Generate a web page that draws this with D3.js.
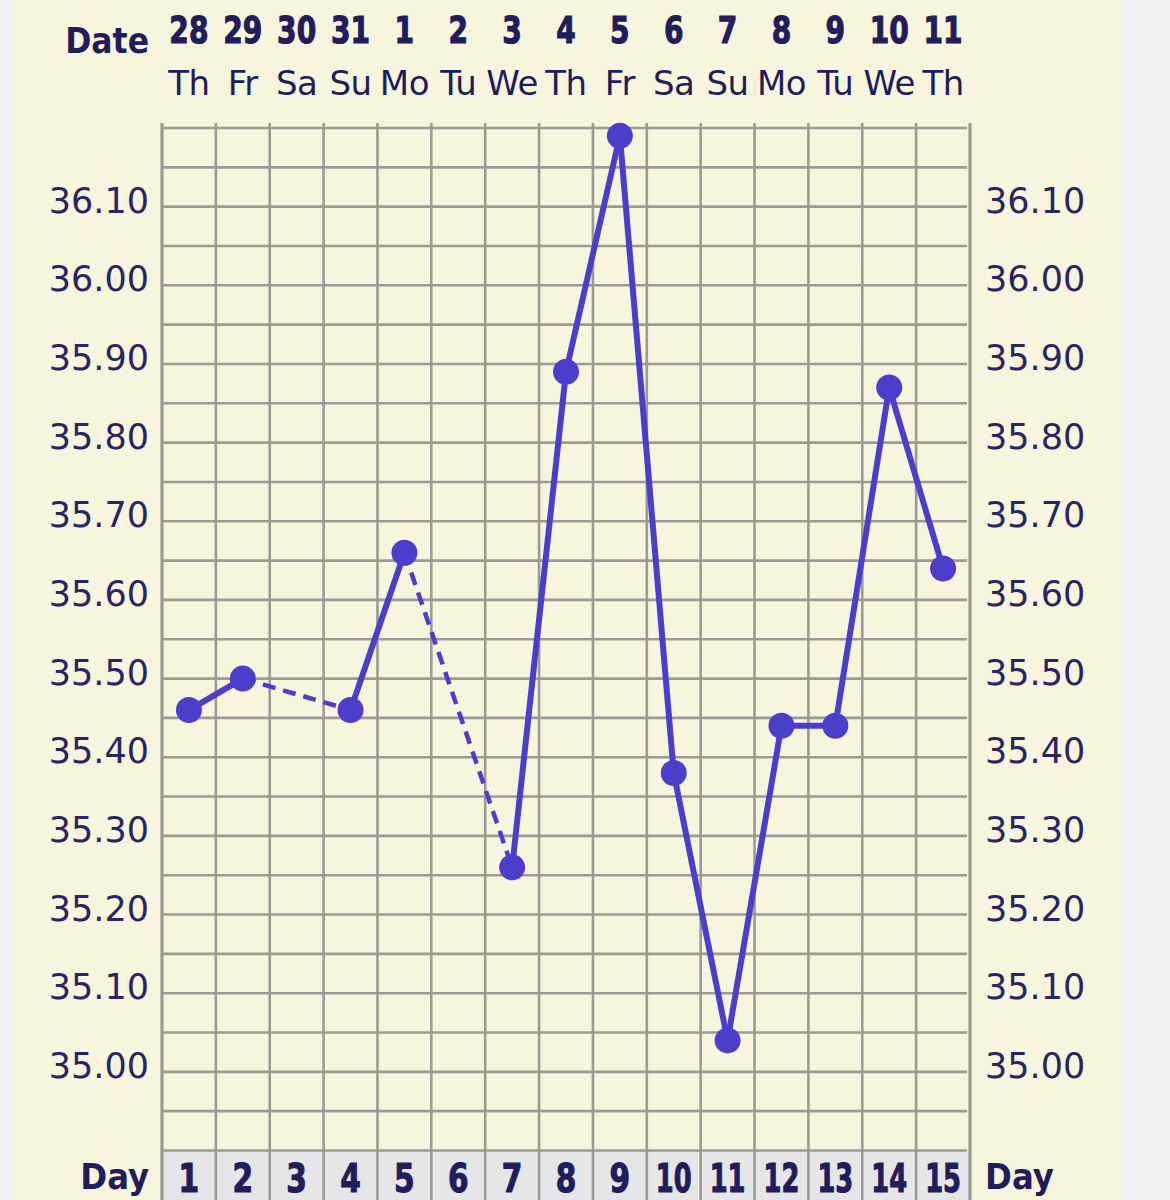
<!DOCTYPE html>
<html>
<head>
<meta charset="utf-8">
<script src="https://cdn.jsdelivr.net/npm/d3@7"></script>
<style>
  body { margin: 0; background: #f2f2f4; }
  svg { display: block; }
</style>
</head>
<body>
<div id="chart"></div>
<script>
// chart data
const dayNums = [1, 2, 3, 4, 5, 6, 7, 8, 9, 10, 11, 12, 13, 14, 15];
const dates = ["28", "29", "30", "31", "1", "2", "3", "4", "5", "6", "7", "8", "9", "10", "11"];
const weekdays = ["Th", "Fr", "Sa", "Su", "Mo", "Tu", "We", "Th", "Fr", "Sa", "Su", "Mo", "Tu", "We", "Th"];
const temps = [35.46, 35.50, null, 35.46, 35.66, null, 35.26, 35.89, 36.19, 35.38, 35.04, 35.44, 35.44, 35.87, 35.64];
const yTicks = [35.00, 35.10, 35.20, 35.30, 35.40, 35.50, 35.60, 35.70, 35.80, 35.90, 36.00, 36.10];

const W = 1170, H = 1200;
const navy = "#221c5a";
const lineColor = "#4a3ecb";
const gridColor = "#9b9a95";
const condFont = "'DejaVu Sans Condensed', 'DejaVu Sans', sans-serif";
const font = "'DejaVu Sans', Verdana, sans-serif";

const svg = d3.select("#chart").append("svg")
    .attr("width", W).attr("height", H);

// cream panel
svg.append("rect").attr("x", 13).attr("y", 0).attr("width", 1109).attr("height", H)
    .attr("fill", "#f8f5df");

const x = d3.scaleBand().domain(dayNums).range([162, 970]);
const y = d3.scaleLinear().domain([34.90, 36.20]).range([1150.5, 128]);
const cx = d => x(d) + x.bandwidth() / 2;

const gridTop = y(36.20), gridBottom = y(34.90);

// day row background
svg.append("rect").attr("x", 162).attr("y", gridBottom).attr("width", 808).attr("height", H - gridBottom)
    .attr("fill", "#e6e6e8");

// horizontal grid, every 0.05
const hLines = d3.range(0, 27).map(i => 34.90 + i * 0.05);
svg.append("g").selectAll("line").data(hLines).enter().append("line")
    .attr("x1", 163).attr("x2", 967)
    .attr("y1", d => y(d)).attr("y2", d => y(d))
    .attr("stroke", gridColor).attr("stroke-width", 2.6);

// vertical grid
const vEdges = dayNums.map(d => x(d)).concat([x.range()[1]]);
svg.append("g").selectAll("line").data(vEdges).enter().append("line")
    .attr("x1", d => d).attr("x2", d => d)
    .attr("y1", gridTop - 5).attr("y2", H)
    .attr("stroke", gridColor)
    .attr("stroke-width", (d, i) => (i === 0 || i === vEdges.length - 1) ? 3.2 : 2.6);

// y labels, both sides
const yl = svg.append("g").style("font-family", font).style("font-size", "35px").attr("fill", "#2a2560");
yl.selectAll("text.l").data(yTicks).enter().append("text")
    .attr("x", 149).attr("y", d => y(d) - 4)
    .attr("text-anchor", "end").attr("dominant-baseline", "middle")
    .text(d => d.toFixed(2));
yl.selectAll("text.r").data(yTicks).enter().append("text")
    .attr("x", 985).attr("y", d => y(d) - 4)
    .attr("text-anchor", "start").attr("dominant-baseline", "middle")
    .text(d => d.toFixed(2));

// header
const hdr = svg.append("g").attr("fill", navy);
hdr.append("text").attr("x", 149).attr("y", 53).attr("text-anchor", "end")
    .style("font-family", condFont).style("font-weight", "bold").style("font-size", "35px")
    .text("Date");
// narrow heavy numerals
hdr.selectAll("text.date").data(dates).enter().append("text")
    .attr("transform", (d, i) => `translate(${cx(dayNums[i])},43) scale(0.74,1)`)
    .attr("text-anchor", "middle")
    .attr("stroke", navy).attr("stroke-width", 1.2)
    .style("font-family", font).style("font-weight", "bold").style("font-size", "38px")
    .text(d => d);
hdr.selectAll("text.wd").data(weekdays).enter().append("text")
    .attr("x", (d, i) => cx(dayNums[i])).attr("y", 95)
    .attr("text-anchor", "middle")
    .style("font-family", font).style("font-size", "34px")
    .style("letter-spacing", "-0.5px")
    .text(d => d);

// day row labels
const dr = svg.append("g").attr("fill", navy);
dr.selectAll("text.day").data(dayNums).enter().append("text")
    .attr("transform", d => `translate(${cx(d)},1192) scale(${d > 9 ? 0.66 : 0.76},1)`)
    .attr("text-anchor", "middle")
    .attr("stroke", navy).attr("stroke-width", 1.2)
    .style("font-family", font).style("font-weight", "bold").style("font-size", "39px")
    .text(d => d);
dr.append("text").attr("x", 149).attr("y", 1189).attr("text-anchor", "end")
    .style("font-family", condFont).style("font-weight", "bold").style("font-size", "36px").text("Day");
dr.append("text").attr("x", 985).attr("y", 1189).attr("text-anchor", "start")
    .style("font-family", condFont).style("font-weight", "bold").style("font-size", "36px").text("Day");

// line segments: solid between neighbouring days, dashed across missing days
const pts = dayNums.map((d, i) => ({ day: d, i, t: temps[i] })).filter(p => p.t !== null);
const segs = d3.pairs(pts).map(([a, b]) => ({ a, b, dashed: b.i - a.i > 1 }));

svg.append("g").selectAll("line").data(segs).enter().append("line")
    .attr("x1", s => cx(s.a.day)).attr("y1", s => y(s.a.t))
    .attr("x2", s => cx(s.b.day)).attr("y2", s => y(s.b.t))
    .attr("stroke", lineColor)
    .attr("stroke-width", s => s.dashed ? 4.5 : 6)
    .attr("stroke-dasharray", s => s.dashed ? "13 8" : null);

svg.append("g").selectAll("circle").data(pts).enter().append("circle")
    .attr("cx", p => cx(p.day)).attr("cy", p => y(p.t))
    .attr("r", 13).attr("fill", lineColor);
</script>
</body>
</html>
